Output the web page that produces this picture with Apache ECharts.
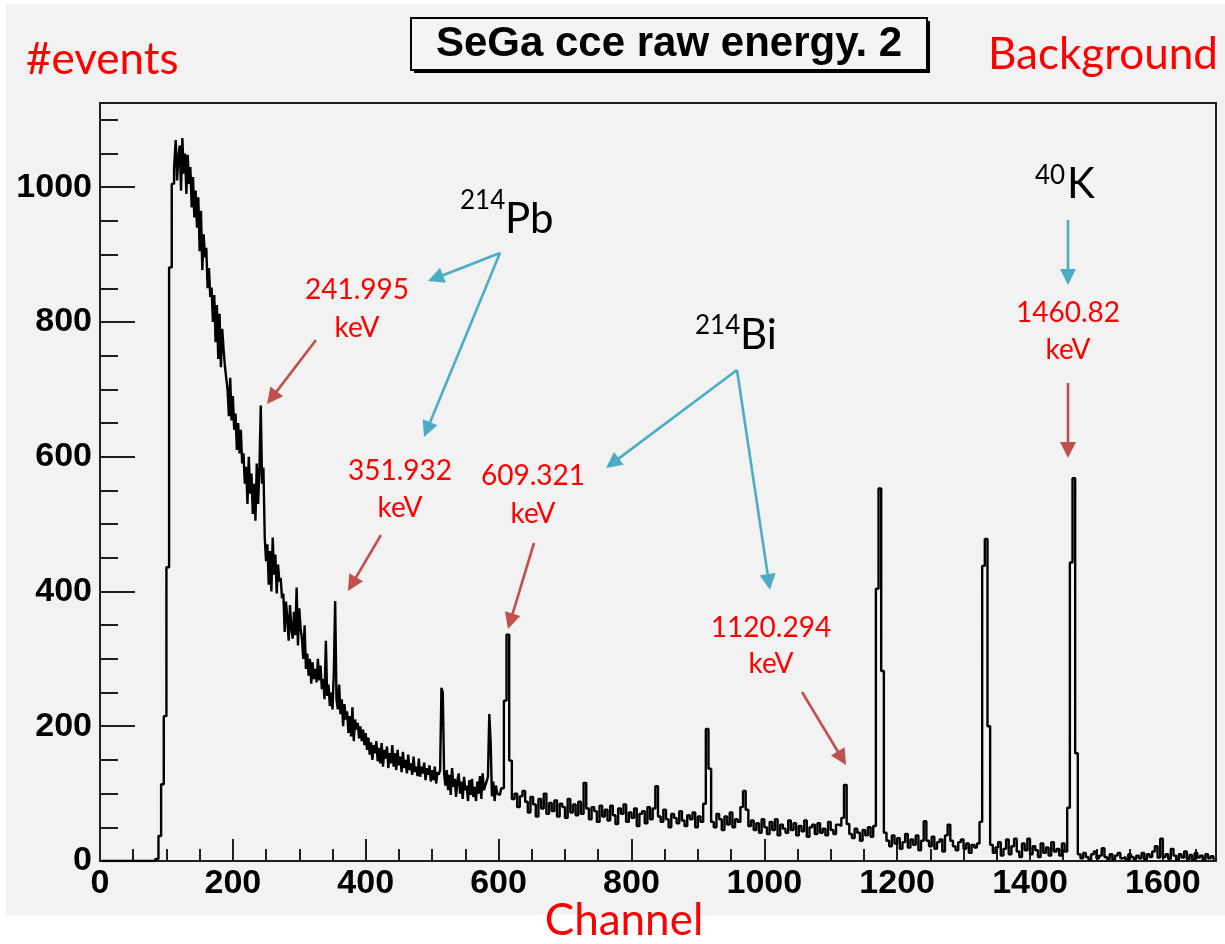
<!DOCTYPE html>
<html><head><meta charset="utf-8">
<script src="https://cdn.jsdelivr.net/npm/echarts/dist/echarts.min.js"></script>
<style>
html,body{margin:0;padding:0;background:#fff;}
#bg{position:absolute;left:6px;top:4px;width:1219px;height:911px;background:#f2f2f2;}
#chart{position:absolute;left:0;top:0;width:1225px;height:944px;}
</style></head><body>
<div id="bg"></div><div id="chart"></div>
<script>
// ---------------- data ----------------
const title = 'SeGa cce raw energy. 2';
const yAxisName = '#events';
const xAxisName = 'Channel';
const cornerNote = 'Background';
const xMax = 1680, yMax = 1125;
const xMajorStep = 200, xMinorStep = 50, yMajorStep = 200, yMinorStep = 50;

// channels 0-111, 4-channel bins
const lowStart = 0, lowBin = 4;
const countsLow = [
  0,0,0,0,0,0,0,0,0,0,
  0,0,0,0,0,0,0,0,0,0,
  0,3,37,114,215,436,881,1005
];
// channels 112-599, 2-channel bins (dense, noisy part)
const fineStart = 112, fineBin = 2;
const countsFine = [
  1028,1070,1010,1045,1062,995,1073,1020,1050,990,
  1048,1005,1030,970,1015,955,995,940,985,905,
  965,877,930,896,910,850,880,837,851,800,
  840,770,825,745,812,733,790,760,735,717,
  700,660,717,654,690,640,664,610,650,605,
  640,590,605,560,585,530,600,545,575,515,
  560,505,590,530,580,676,560,584,480,445,
  470,410,460,400,480,425,455,397,440,415,
  420,390,397,340,385,360,327,380,345,330,
  370,335,406,320,375,345,330,300,350,285,
  308,275,300,263,295,270,285,265,300,268,
  290,255,270,240,327,245,262,230,250,225,
  280,386,240,225,262,218,240,200,233,210,
  222,190,215,185,228,178,210,195,205,182,
  200,178,195,172,
  190,165,183,158,176,150,172,160,178,148,
  168,145,175,140,165,152,170,138,160,145,
  172,140,160,135,165,142,155,132,162,138,
  150,130,158,135,145,128,155,132,140,126,
  152,125,140,130,146,120,138,128,142,118,
  135,120,140,115,132,128,135,257,250,130,
  112,135,105,128,98,138,110,122,95,120,
  130,100,118,92,125,105,112,89,120,98,
  122,95,110,89,118,100,126,92,130,105,
  112,118,125,218,178,96,118,89,112,100
];
// channels 600-1679, 4-channel bins
const highStart = 600, highBin = 4;
const countsHigh = [
  98,108,238,336,149,92,100,80,96,104,
  88,72,95,84,66,92,78,100,70,86,
  74,90,66,85,80,64,92,72,84,68,
  88,70,116,78,62,80,74,58,82,66,
  76,60,82,68,55,78,70,84,58,72,
  64,78,52,70,74,56,80,62,78,111,
  66,58,76,62,50,70,64,56,74,60,
  52,68,62,72,50,66,58,85,196,137,
  58,50,70,62,46,66,54,72,50,62,
  58,80,104,76,52,60,46,56,42,62,
  50,40,58,46,62,38,54,48,42,60,
  46,56,38,52,44,60,36,50,54,40,
  56,42,48,38,58,46,40,54,52,64,
  113,55,40,34,48,42,30,46,38,50,
  36,52,404,553,282,42,30,22,38,26,
  34,18,28,40,20,32,24,38,16,30,
  59,30,22,36,18,28,32,14,38,54,
  30,22,16,28,32,18,26,12,24,20,
  26,58,438,478,200,24,12,20,28,8,
  18,32,10,22,33,14,6,26,16,33,
  10,22,16,6,26,12,20,8,28,14,
  18,8,26,14,79,443,568,160,10,4,
  12,6,2,10,14,4,8,19,6,3,
  10,2,8,12,4,6,1,10,6,3,
  8,4,12,2,10,6,14,22,5,33,
  6,10,3,18,8,2,10,5,14,3,
  9,2,12,5,8,1,10,4,7,3
];
const peakEnergies = ['241.995', '351.932', '609.321', '1120.294', '1460.82'];
const energyUnit = 'keV';
const isotopes = [
  {mass: '214', sym: 'Pb'},
  {mass: '214', sym: 'Bi'},
  {mass: '40',  sym: 'K'}
];

// ---------------- build ----------------
function binsToPoints(arr, start, w) {
  return arr.map((c, i) => [start + i * w + w / 2, c]);
}
const histData = [].concat(
  binsToPoints(countsLow, lowStart, lowBin),
  binsToPoints(countsFine, fineStart, fineBin),
  binsToPoints(countsHigh, highStart, highBin)
);

const axisColor = '#1e1e1e';
const tickFont = {
  fontFamily: '"Liberation Sans", Arial, Helvetica, sans-serif',
  fontWeight: 'bold', fontSize: 34, color: '#000'
};
const redFont = 'Lato, "Open Sans", sans-serif';
const RED = '#ff0000', ARROW_RED = '#c0504d', ARROW_BLUE = '#4bacc6';

function txt(text, x, y, size, color, align, weight, family) {
  return {
    type: 'text', z: 100,
    style: {
      text: text, x: x, y: y,
      font: (weight || 'normal') + ' ' + size + 'px ' + (family || redFont),
      fill: color, align: align, textAlign: align,
      verticalAlign: 'middle', textVerticalAlign: 'middle'
    }
  };
}
function arrow(x1, y1, x2, y2, color) {
  const L = 16, W = 8;
  const dx = x2 - x1, dy = y2 - y1, len = Math.hypot(dx, dy);
  const ux = dx / len, uy = dy / len;
  const bx = x2 - ux * L, by = y2 - uy * L;
  return [
    {type: 'line', z: 100, shape: {x1: x1, y1: y1, x2: bx + ux * 2, y2: by + uy * 2},
     style: {stroke: color, lineWidth: 2.6}},
    {type: 'polygon', z: 100,
     shape: {points: [[x2, y2], [bx - uy * W, by + ux * W], [bx + uy * W, by - ux * W]]},
     style: {fill: color}}
  ];
}

const graphics = [];
// title box with shadow
graphics.push({type: 'rect', z: 99, shape: {x: 414, y: 21, width: 516, height: 52}, style: {fill: '#000'}});
graphics.push({type: 'rect', z: 99, shape: {x: 411, y: 18, width: 516, height: 52},
  style: {fill: '#f4f4f4', stroke: '#000', lineWidth: 2}});
graphics.push(txt(title, 669, 44, 42, '#000', 'center', 'bold', '"Liberation Sans", Arial, sans-serif'));
// red corner / axis texts
graphics.push(txt(yAxisName, 26, 60, 44, RED, 'left'));
graphics.push(txt(cornerNote, 988, 55, 44, RED, 'left'));
graphics.push(txt(xAxisName, 624, 921, 44, RED, 'center'));
// isotope labels
const isoPos = [[460, 505, 201, 219], [695, 740, 326, 335], [1035, 1067, 176, 184]];
isotopes.forEach((iso, k) => {
  const p = isoPos[k];
  graphics.push(txt(iso.mass, p[0], p[2], 26, '#000', 'left'));
  graphics.push(txt(iso.sym, p[1], p[3], 42, '#000', 'left'));
});
// energy labels
const enPos = [[357, 290, 328], [400, 471, 508], [533, 476, 514], [771, 628, 664], [1068, 313, 350]];
peakEnergies.forEach((e, k) => {
  const p = enPos[k];
  graphics.push(txt(e, p[0], p[1], 28, RED, 'center'));
  graphics.push(txt(energyUnit, p[0], p[2], 28, RED, 'center'));
});
// arrows
[[316, 340, 267, 404], [381, 535, 348, 591], [534, 543, 508, 629], [802, 692, 846, 765], [1068, 383, 1068, 458]]
  .forEach(a => graphics.push(...arrow(a[0], a[1], a[2], a[3], ARROW_RED)));
[[500, 253, 428, 281], [500, 253, 424, 437], [737, 370, 606, 468], [737, 370, 770, 590], [1068, 220, 1068, 285]]
  .forEach(a => graphics.push(...arrow(a[0], a[1], a[2], a[3], ARROW_BLUE)));

function majorAxis(max, step, tickLen, extra) {
  return Object.assign({
    type: 'value', min: 0, max: max, interval: step,
    axisLine: {show: true, onZero: false, lineStyle: {color: axisColor, width: 2}},
    axisTick: {show: true, inside: true, length: tickLen, lineStyle: {color: axisColor, width: 2}},
    axisLabel: Object.assign({}, tickFont, {
      showMaxLabel: false,
      formatter: v => (v % step === 0 ? String(v) : '')
    }),
    splitLine: {show: false}
  }, extra);
}
function minorAxis(max, step, tickLen, extra) {
  return Object.assign({
    type: 'value', min: 0, max: max, interval: step,
    axisLine: {show: false, onZero: false},
    axisTick: {show: true, inside: true, length: tickLen, lineStyle: {color: axisColor, width: 2}},
    axisLabel: {show: false},
    splitLine: {show: false}
  }, extra);
}

const xMaj = majorAxis(xMax, xMajorStep, 22, {position: 'bottom'});
xMaj.axisLabel.margin = 6;
const yMaj = majorAxis(yMax, yMajorStep, 35, {position: 'left'});
yMaj.axisLabel.margin = 8;

const chart = echarts.init(document.getElementById('chart'), null, {renderer: 'canvas'});
chart.setOption({
  animation: false,
  backgroundColor: 'transparent',
  grid: {left: 100, top: 103, right: 9, bottom: 83, show: true,
         borderColor: '#1e1e1e', borderWidth: 2, backgroundColor: 'transparent',
         containLabel: false, outerBoundsMode: 'none'},
  xAxis: [xMaj, minorAxis(xMax, xMinorStep, 12, {position: 'bottom'})],
  yAxis: [yMaj, minorAxis(yMax, yMinorStep, 18, {position: 'left'})],
  series: [{
    type: 'line', xAxisIndex: 0, yAxisIndex: 0,
    data: histData, step: 'middle', symbol: 'none', showSymbol: false,
    lineStyle: {color: '#000', width: 2.4}, clip: true, silent: true
  }],
  graphic: graphics
});
</script>
</body></html>
